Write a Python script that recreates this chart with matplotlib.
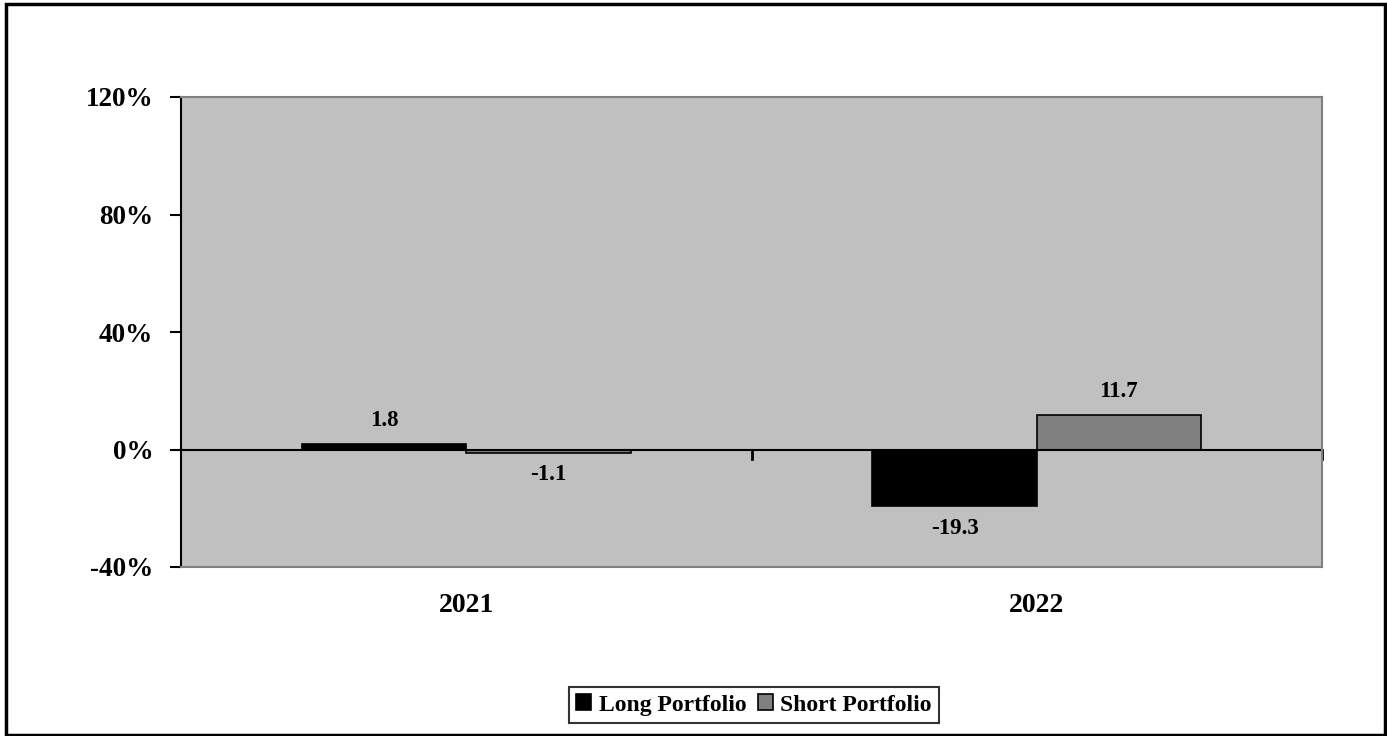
import numpy as np
import matplotlib.pyplot as plt
from matplotlib.patches import Rectangle

years = ['2021', '2022']
long_ret = [1.8, -19.3]
short_ret = [-1.1, 11.7]
series_names = ['Long Portfolio', 'Short Portfolio']
yticks = [-40, 0, 40, 80, 120]

plt.rcParams['font.family'] = ['Liberation Serif', 'DejaVu Serif']
plt.rcParams['font.weight'] = 'bold'

fig = plt.figure(figsize=(13.87, 7.36), dpi=100)
ax = fig.add_axes([181 / 1387, 1 - 567 / 736, 1141 / 1387, 470 / 736])
ax.set_facecolor('#c0c0c0')

x = np.arange(len(years))
w = 0.288
b1 = ax.bar(x - w / 2, long_ret, w, color='black', edgecolor='black', linewidth=1.2,
            label=series_names[0])
b2 = ax.bar(x + w / 2, short_ret, w, color='#808080', edgecolor='black', linewidth=1.2,
            label=series_names[1])

for bars, vals in ((b1, long_ret), (b2, short_ret)):
    for r, v in zip(bars, vals):
        cx = r.get_x() + r.get_width() / 2
        if v >= 0:
            ax.text(cx, v + 4.5, f'{v:.1f}', ha='center', va='bottom', fontsize=16.5, fontweight='bold')
        else:
            ax.text(cx, v - 4, f'{v:.1f}', ha='center', va='top', fontsize=16.5, fontweight='bold')

ax.axhline(0, color='black', linewidth=1.5, zorder=1)
ax.set_xlim(-0.5, 1.5)
ax.set_ylim(-40, 120)
ax.set_yticks(yticks)
ax.set_yticklabels([f'{t}%' for t in yticks], fontsize=19.5, fontweight='bold')
ax.tick_params(axis='y', direction='out', length=8, width=1.5, pad=12)

# category boundary ticks sit on the zero line, labels go below the plot
ax.set_xticks([])
for xb in (0.5, 1.5):
    ax.plot([xb, xb], [0, -3.3], color='black', linewidth=2, clip_on=False)
for xi, lab in zip(x, years):
    ax.text(xi, -53, lab, ha='center', va='center', fontsize=20, fontweight='bold')

for s in ('top', 'right', 'bottom'):
    ax.spines[s].set_color('#808080')
    ax.spines[s].set_linewidth(1.5)
ax.spines['left'].set_color('black')
ax.spines['left'].set_linewidth(1.5)

leg = fig.legend(handles=[b1, b2], loc='center', bbox_to_anchor=(754 / 1387, 1 - 705 / 736),
                 ncol=2, frameon=True, fancybox=False, edgecolor='black',
                 handlelength=0.65, handleheight=0.65, handletextpad=0.3, columnspacing=0.5,
                 borderpad=0.3, borderaxespad=0, prop={'weight': 'bold', 'size': 17})
leg.get_frame().set_linewidth(1.5)

fig.patches.append(Rectangle((6 / 1387, 1 / 736), 1379 / 1387, 731 / 736,
                             transform=fig.transFigure, fill=False, edgecolor='black',
                             linewidth=2.5))

fig.savefig('out.png', dpi=100)
